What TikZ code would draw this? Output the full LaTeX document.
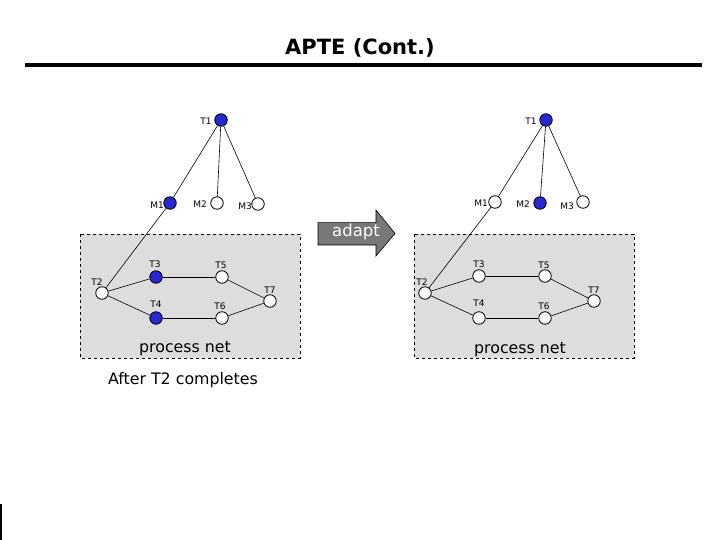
\documentclass[tikz,border=0pt]{standalone}
\usepackage{fontspec}
\setmainfont{DejaVu Sans}
\definecolor{pblue}{RGB}{40,40,210}
\definecolor{boxgray}{RGB}{221,221,221}
\definecolor{arrgray}{RGB}{120,120,120}
\begin{document}
\begin{tikzpicture}[x=1pt,y=-1pt,
  pl/.style={circle,draw=black,line width=0.8pt,fill=white,minimum size=12.5pt,inner sep=0pt},
  done/.style={pl,fill=pblue},
  lbl/.style={font=\fontsize{9}{9}\selectfont,inner sep=0pt},
  big/.style={font=\fontsize{15.8}{16}\selectfont,inner sep=0pt},
  netbox/.style={draw=black,dashed,fill=boxgray,line width=0.8pt},
  arc/.style={draw=black,line width=0.6pt}]
\useasboundingbox (0,0) rectangle (720,540);
\fill[white] (0,0) rectangle (720,540);
% title
\node[font=\bfseries\fontsize{21}{21}\selectfont,inner sep=0pt] (title) at (360,48) {APTE (Cont.)};
\draw[line width=3.5pt] (25,65) -- (702,65);
% bottom left mark
\draw[line width=2pt] (1,504) -- (1,540);

% ---------- left ----------
\draw[netbox] (80,234) rectangle (300,358);
\node[done] (LT1) at (221,120) {};
\node[done] (LM1) at (170,203) {};
\node[pl] (LM2) at (217,203) {};
\node[pl] (LM3) at (258,204) {};
\node[pl] (LT2) at (102,293) {};
\node[done] (LT3) at (156,277) {};
\node[pl] (LT5) at (222,277) {};
\node[pl] (LT7) at (270,301) {};
\node[done] (LT4) at (156,318) {};
\node[pl] (LT6) at (222,318) {};
\node[lbl] (lLT1) at (206,121) {T1};
\node[lbl] (lLM1) at (157,205) {M1};
\node[lbl] (lLM2) at (200,204) {M2};
\node[lbl] (lLM3) at (245,206) {M3};
\node[lbl] (lLT2) at (97,282) {T2};
\node[lbl] (lLT3) at (155,264) {T3};
\node[lbl] (lLT5) at (221,265) {T5};
\node[lbl] (lLT7) at (270,290) {T7};
\node[lbl] (lLT4) at (156,304) {T4};
\node[lbl] (lLT6) at (220,306) {T6};
\draw[arc] (LT1) -- (LM1);
\draw[arc] (LT1) -- (LM2);
\draw[arc] (LT1) -- (LM3);
\draw[arc] (LM1) -- (LT2);
\draw[arc] (LT2) -- (LT3);
\draw[arc] (LT2) -- (LT4);
\draw[arc] (LT3) -- (LT5);
\draw[arc] (LT4) -- (LT6);
\draw[arc] (LT5) -- (LT7);
\draw[arc] (LT6) -- (LT7);
\node[big] (lnet) at (185,349) {process net};
\node[big] (after) at (183,380) {After T2 completes};

% ---------- arrow ----------
\draw[fill=arrgray,line width=0.6pt,line join=miter]
  (318,222.7) -- (376,222.7) -- (376,210) -- (395,233.5) -- (376,256)
  -- (376,245) -- (318,245) -- cycle;
\node[text=white,font=\fontsize{16.5}{17}\selectfont,inner sep=0pt] (adapt) at (356,232) {adapt};

% ---------- right ----------
\draw[netbox] (414,234) rectangle (634,358);
\node[done] (RT1) at (546,120) {};
\node[pl] (RM1) at (495,202) {};
\node[done] (RM2) at (540,203) {};
\node[pl] (RM3) at (583,202) {};
\node[pl] (RT2) at (425,293) {};
\node[pl] (RT3) at (479,276) {};
\node[pl] (RT5) at (545,276) {};
\node[pl] (RT7) at (594,301) {};
\node[pl] (RT4) at (479,318) {};
\node[pl] (RT6) at (545,318) {};
\node[lbl] (lRT1) at (531,121) {T1};
\node[lbl] (lRM1) at (481,203) {M1};
\node[lbl] (lRM2) at (523,204) {M2};
\node[lbl] (lRM3) at (567,206) {M3};
\node[lbl] (lRT2) at (422,282) {T2};
\node[lbl] (lRT3) at (479,264) {T3};
\node[lbl] (lRT5) at (544,265) {T5};
\node[lbl] (lRT7) at (594,290) {T7};
\node[lbl] (lRT4) at (479,303) {T4};
\node[lbl] (lRT6) at (544,306) {T6};
\draw[arc] (RT1) -- (RM1);
\draw[arc] (RT1) -- (RM2);
\draw[arc] (RT1) -- (RM3);
\draw[arc] (RM1) -- (RT2);
\draw[arc] (RT2) -- (RT3);
\draw[arc] (RT2) -- (RT4);
\draw[arc] (RT3) -- (RT5);
\draw[arc] (RT4) -- (RT6);
\draw[arc] (RT5) -- (RT7);
\draw[arc] (RT6) -- (RT7);
\node[big] (rnet) at (520,350) {process net};
\end{tikzpicture}
\end{document}
